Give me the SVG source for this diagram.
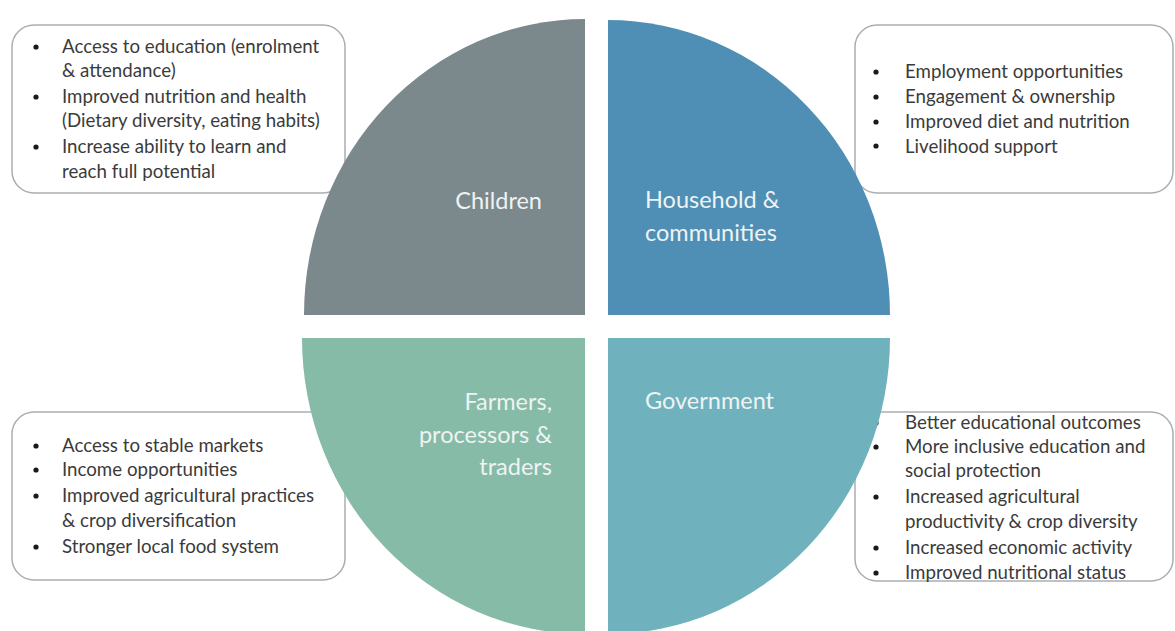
<svg xmlns="http://www.w3.org/2000/svg" width="1175" height="631" viewBox="0 0 1175 631">
  <style>
    .box { fill: #ffffff; stroke: #a9afb5; stroke-width: 1.5; }
    .item { font-family: Lato, "Liberation Sans", sans-serif; font-size: 18.7px; fill: #3b3b3b; }
    .dot { fill: #1a1a1a; }
    .label { font-family: Lato, "Liberation Sans", sans-serif; font-size: 23.5px; fill: #eef3f3; }
    .q-children { fill: #7b888c; }
    .q-household { fill: #4f8fb5; }
    .q-farmers { fill: #86bba7; }
    .q-government { fill: #6fb2bd; }
  </style>
  <rect width="1175" height="631" fill="#ffffff"/>

  <!-- Outcome boxes (drawn first, the quarter shapes sit on top of them) -->
  <g id="box-children">
    <rect class="box" x="12" y="25" width="333" height="168" rx="22"/>
    <g class="dot">
      <circle cx="36" cy="47" r="2.6"/>
      <circle cx="36" cy="97" r="2.6"/>
      <circle cx="36" cy="147" r="2.6"/>
    </g>
    <text class="item" x="62" y="53">Access to education (enrolment</text>
    <text class="item" x="62" y="76.5">&amp; attendance)</text>
    <text class="item" x="62" y="103">Improved nutrition and health</text>
    <text class="item" x="62" y="126.5">(Dietary diversity, eating habits)</text>
    <text class="item" x="62" y="153">Increase ability to learn and</text>
    <text class="item" x="62" y="178">reach full potential</text>
  </g>

  <g id="box-household">
    <rect class="box" x="855" y="25" width="318" height="168" rx="22"/>
    <g class="dot">
      <circle cx="876" cy="72" r="2.6"/>
      <circle cx="876" cy="97" r="2.6"/>
      <circle cx="876" cy="122" r="2.6"/>
      <circle cx="876" cy="146" r="2.6"/>
    </g>
    <text class="item" x="905" y="78">Employment opportunities</text>
    <text class="item" x="905" y="103">Engagement &amp; ownership</text>
    <text class="item" x="905" y="128">Improved diet and nutrition</text>
    <text class="item" x="905" y="153">Livelihood support</text>
  </g>

  <g id="box-farmers">
    <rect class="box" x="12" y="412" width="333" height="168" rx="22"/>
    <g class="dot">
      <circle cx="36" cy="446" r="2.6"/>
      <circle cx="36" cy="470" r="2.6"/>
      <circle cx="36" cy="496" r="2.6"/>
      <circle cx="36" cy="547" r="2.6"/>
    </g>
    <text class="item" x="62" y="452">Access to stable markets</text>
    <text class="item" x="62" y="476">Income opportunities</text>
    <text class="item" x="62" y="502">Improved agricultural practices</text>
    <text class="item" x="62" y="527">&amp; crop diversification</text>
    <text class="item" x="62" y="553">Stronger local food system</text>
  </g>

  <g id="box-government">
    <rect class="box" x="855" y="412" width="318" height="169" rx="22"/>
    <g class="dot">
      <circle cx="876" cy="423" r="2.6"/>
      <circle cx="876" cy="447" r="2.6"/>
      <circle cx="876" cy="497" r="2.6"/>
      <circle cx="876" cy="548" r="2.6"/>
      <circle cx="876" cy="573" r="2.6"/>
    </g>
    <text class="item" x="905" y="429">Better educational outcomes</text>
    <text class="item" x="905" y="453">More inclusive education and</text>
    <text class="item" x="905" y="477">social protection</text>
    <text class="item" x="905" y="503">Increased agricultural</text>
    <text class="item" x="905" y="528">productivity &amp; crop diversity</text>
    <text class="item" x="905" y="554">Increased economic activity</text>
    <text class="item" x="905" y="579">Improved nutritional status</text>
  </g>

  <!-- Four quarter shapes of the central circle -->
  <g id="quarter-children">
    <path class="q-children" d="M585,315 L304,315 A281,296 0 0 1 585,19 Z"/>
    <text class="label" x="542" y="209" text-anchor="end">Children</text>
  </g>
  <g id="quarter-household">
    <path class="q-household" d="M608,315 L608,20 A282,295 0 0 1 890,315 Z"/>
    <text class="label" x="645" y="208">Household &amp;</text>
    <text class="label" x="645" y="241">communities</text>
  </g>
  <g id="quarter-farmers">
    <path class="q-farmers" d="M585,338 L302,338 A283,296 0 0 0 585,634 Z"/>
    <text class="label" x="552" y="410" text-anchor="end">Farmers,</text>
    <text class="label" x="552" y="443" text-anchor="end">processors &amp;</text>
    <text class="label" x="552" y="475" text-anchor="end">traders</text>
  </g>
  <g id="quarter-government">
    <path class="q-government" d="M608,338 L890,338 A282,296 0 0 1 608,634 Z"/>
    <text class="label" x="645" y="409">Government</text>
  </g>

  <!-- No connectors in this figure -->
  <g id="connectors"/>
</svg>
